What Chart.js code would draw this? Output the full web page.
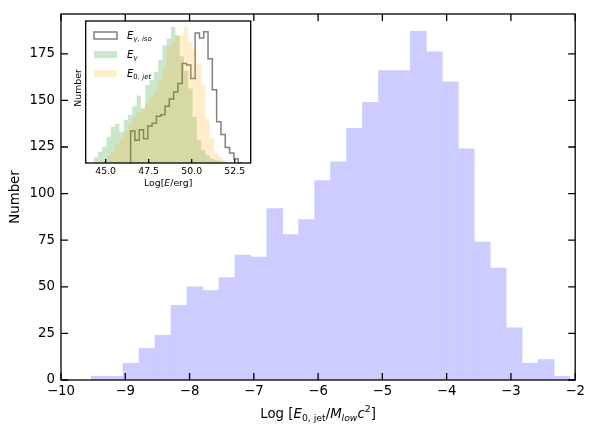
<!DOCTYPE html>
<html>
<head>
<meta charset="utf-8">
<script src="https://cdn.jsdelivr.net/npm/chart.js@4"></script>
<style>
    html, body { margin: 0; padding: 0; background: #fff; }
    #wrap { position: relative; width: 589px; height: 433px; }
    #main { position: absolute; left: 0; top: 0; }
    #inset { position: absolute; left: 60px; top: 10px; }
</style>
</head>
<body>
<div id="wrap">
    <canvas id="main" width="589" height="433"></canvas>
    <canvas id="inset" width="200" height="185"></canvas>
</div>
<script>
// --- Main histogram: Log[E0,jet / M_low c^2] ---
const mainBinStart = -9.53;
const mainBinWidth = 0.2483;
const mainCounts = [2, 2, 9, 17, 24, 40, 50, 48, 55, 67, 66, 92, 78, 86, 107,
                    117, 135, 149, 166, 166, 187, 176, 160, 124, 74, 60, 28, 9, 11, 2];
const mainXTicks = [-10, -9, -8, -7, -6, -5, -4, -3, -2];
const mainYTicks = [0, 25, 50, 75, 100, 125, 150, 175];

// --- Inset histograms: Log[E/erg] ---
const insetBinWidth = 0.25;
const isoStart = 46.45;     // E_gamma,iso
const isoCounts = [12, 45, 32, 47, 34, 52, 56, 66, 68, 80, 90, 100, 112, 140, 138,
                   119, 183, 176, 185, 147, 103, 58, 40, 22, 14, 6];
const gammaStart = 44.30;   // E_gamma
const gammaCounts = [3, 8, 16, 23, 37, 51, 55, 44, 61, 68, 80, 95, 77, 110, 117, 128,
                     145, 166, 175, 192, 180, 150, 130, 105, 65, 32, 18, 11, 6, 4, 3, 1];
const jetStart = 45.05;     // E_0,jet
const jetCounts = [4, 10, 16, 27, 35, 45, 54, 64, 72, 76, 84, 92, 102, 115, 135, 164,
                   170, 178, 179, 192, 171, 159, 140, 110, 62, 35, 14, 8, 4, 1];
const insetXTicks = [45, 47.5, 50, 52.5];

const FONT = "'DejaVu Sans', 'Liberation Sans', sans-serif";

// histogram edges -> points for a stepped ('after') line
function stepPoints(start, width, counts) {
    const pts = [{ x: start, y: 0 }];
    counts.forEach((c, i) => pts.push({ x: start + i * width, y: c }));
    pts.push({ x: start + counts.length * width, y: 0 });
    return pts;
}

function minusSign(v) {
    return v < 0 ? '\u2212' + Math.abs(v) : String(v);
}

// text made of runs: {t, it, s (size factor), dy (baseline shift in em)}
function drawRich(ctx, parts, x, y, size, align) {
    const fontOf = p => (p.it ? 'italic ' : '') + (size * (p.s || 1)) + 'px ' + FONT;
    let w = 0;
    parts.forEach(p => { ctx.font = fontOf(p); w += ctx.measureText(p.t).width; });
    let cx = align === 'left' ? x : x - w / 2;
    ctx.textAlign = 'left';
    ctx.textBaseline = 'alphabetic';
    parts.forEach(p => {
        ctx.font = fontOf(p);
        ctx.fillText(p.t, cx, y + (p.dy || 0) * size);
        cx += ctx.measureText(p.t).width;
    });
}

// frame + inward tick marks, like the usual matplotlib look
const frameTicks = {
    id: 'frameTicks',
    afterDraw(chart, args, opts) {
        const { ctx, chartArea: a } = chart;
        const x = chart.scales.x, y = chart.scales.y;
        const len = opts.tickLen;
        ctx.save();
        ctx.strokeStyle = '#000';
        ctx.lineWidth = opts.lineWidth;
        ctx.beginPath();
        x.ticks.forEach(t => {
            const px = x.getPixelForValue(t.value);
            ctx.moveTo(px, a.bottom); ctx.lineTo(px, a.bottom - len);
            if (opts.allSides) { ctx.moveTo(px, a.top); ctx.lineTo(px, a.top + len); }
        });
        if (opts.allSides) {
            y.ticks.forEach(t => {
                const py = y.getPixelForValue(t.value);
                ctx.moveTo(a.left, py); ctx.lineTo(a.left + len, py);
                ctx.moveTo(a.right, py); ctx.lineTo(a.right - len, py);
            });
        }
        ctx.stroke();
        ctx.strokeRect(a.left, a.top, a.right - a.left, a.bottom - a.top);
        ctx.restore();
    }
};

// --- main chart ---
const mainChart = new Chart(document.getElementById('main'), {
    type: 'bar',
    data: {
        datasets: [{
            data: mainCounts.map((c, i) => ({ x: mainBinStart + (i + 0.5) * mainBinWidth, y: c })),
            backgroundColor: '#ccccff',
            borderWidth: 0,
            barPercentage: 1,
            categoryPercentage: 1
        }]
    },
    options: {
        responsive: false,
        animation: false,
        layout: { padding: { top: 7, right: 12, left: 0, bottom: 0 } },
        plugins: {
            legend: { display: false },
            tooltip: { enabled: false },
            frameTicks: { tickLen: 7, lineWidth: 1.3, allSides: true }
        },
        scales: {
            x: {
                type: 'linear',
                min: -10, max: -2,
                offset: false,
                grid: { display: false, drawTicks: false },
                border: { display: false },
                afterBuildTicks: s => { s.ticks = mainXTicks.map(v => ({ value: v })); },
                afterFit: s => { s.height = 53; },
                ticks: {
                    color: '#000', padding: 4, maxRotation: 0, autoSkip: false,
                    font: { family: FONT, size: 13.3 },
                    callback: v => minusSign(v)
                }
            },
            y: {
                min: 0, max: 196.35,
                grid: { display: false, drawTicks: false },
                border: { display: false },
                afterBuildTicks: s => { s.ticks = mainYTicks.map(v => ({ value: v })); },
                afterFit: s => { s.width = 61; },
                ticks: {
                    color: '#000', padding: 6,
                    font: { family: FONT, size: 13.3 }
                }
            }
        }
    },
    plugins: [frameTicks, {
        id: 'mainTitles',
        afterDraw(chart) {
            const ctx = chart.ctx;
            const a = chart.chartArea;
            ctx.save();
            ctx.fillStyle = '#000';
            drawRich(ctx, [
                { t: 'Log [' },
                { t: 'E', it: true },
                { t: '0, jet', s: 0.7, dy: 0.2 },
                { t: '/' },
                { t: 'M', it: true },
                { t: 'low', it: true, s: 0.7, dy: 0.2 },
                { t: 'c', it: true },
                { t: '2', s: 0.7, dy: -0.42 },
                { t: ']' }
            ], (a.left + a.right) / 2, 418, 13.3);
            ctx.translate(16, (a.top + a.bottom) / 2);
            ctx.rotate(-Math.PI / 2);
            ctx.font = '13.3px ' + FONT;
            ctx.textAlign = 'center';
            ctx.textBaseline = 'middle';
            ctx.fillText('Number', 0, 0);
            ctx.restore();
        }
    }]
});

// --- inset chart ---
const isoColor = 'rgb(128,128,128)';
const gammaFill = 'rgba(0,128,0,0.2)';
const jetFill = 'rgba(255,165,0,0.2)';

const insetChart = new Chart(document.getElementById('inset'), {
    type: 'line',
    data: {
        datasets: [
            {
                data: stepPoints(isoStart, insetBinWidth, isoCounts),
                stepped: 'after', fill: false,
                borderColor: isoColor, borderWidth: 1.5,
                pointRadius: 0, order: 3
            },
            {
                data: stepPoints(gammaStart, insetBinWidth, gammaCounts),
                stepped: 'after', fill: 'origin',
                backgroundColor: gammaFill, borderColor: 'rgba(0,0,0,0)', borderWidth: 0,
                pointRadius: 0, order: 2
            },
            {
                data: stepPoints(jetStart, insetBinWidth, jetCounts),
                stepped: 'after', fill: 'origin',
                backgroundColor: jetFill, borderColor: 'rgba(0,0,0,0)', borderWidth: 0,
                pointRadius: 0, order: 1
            }
        ]
    },
    options: {
        responsive: false,
        animation: false,
        layout: { padding: { top: 11, right: 9.3, left: 25.7, bottom: 0 } },
        plugins: {
            legend: { display: false },
            tooltip: { enabled: false },
            frameTicks: { tickLen: 4, lineWidth: 1.3, allSides: false }
        },
        scales: {
            x: {
                type: 'linear',
                min: 43.84, max: 53.43,
                grid: { display: false, drawTicks: false },
                border: { display: false },
                afterBuildTicks: s => { s.ticks = insetXTicks.map(v => ({ value: v })); },
                afterFit: s => { s.height = 32; },
                ticks: {
                    color: '#000', padding: 3, maxRotation: 0, autoSkip: false,
                    font: { family: FONT, size: 9.33 },
                    callback: v => v.toFixed(1)
                }
            },
            y: { display: false, min: 0, max: 200 }
        }
    },
    plugins: [frameTicks, {
        id: 'insetText',
        afterDraw(chart) {
            const ctx = chart.ctx;
            const a = chart.chartArea;
            const fs = 9.33;
            const ls = 10;
            ctx.save();
            ctx.fillStyle = '#000';
            // x label
            drawRich(ctx, [
                { t: 'Log[' }, { t: 'E', it: true }, { t: '/erg]' }
            ], (a.left + a.right) / 2, 176, fs);
            // legend, upper left, no frame
            const rows = [
                { y: 25.5, parts: [{ t: 'E', it: true }, { t: '\u03b3, iso', it: true, s: 0.7, dy: 0.2 }] },
                { y: 44.6, parts: [{ t: 'E', it: true }, { t: '\u03b3', it: true, s: 0.7, dy: 0.2 }] },
                { y: 63.7, parts: [{ t: 'E', it: true }, { t: '0, ', s: 0.7, dy: 0.2 }, { t: 'jet', it: true, s: 0.7, dy: 0.2 }] }
            ];
            const hx = 34, hw = 23, hh = 7;
            ctx.strokeStyle = isoColor;
            ctx.lineWidth = 1.5;
            ctx.strokeRect(hx, rows[0].y - hh / 2, hw, hh);
            ctx.fillStyle = gammaFill;
            ctx.fillRect(hx, rows[1].y - hh / 2, hw, hh);
            ctx.fillStyle = jetFill;
            ctx.fillRect(hx, rows[2].y - hh / 2, hw, hh);
            ctx.fillStyle = '#000';
            rows.forEach(r => drawRich(ctx, r.parts, 67, r.y + 3.6, ls, 'left'));
            // y label
            ctx.translate(19, 78);
            ctx.rotate(-Math.PI / 2);
            ctx.font = fs + 'px ' + FONT;
            ctx.textAlign = 'center';
            ctx.textBaseline = 'middle';
            ctx.fillText('Number', 0, 0);
            ctx.restore();
        }
    }]
});
</script>
</body>
</html>
